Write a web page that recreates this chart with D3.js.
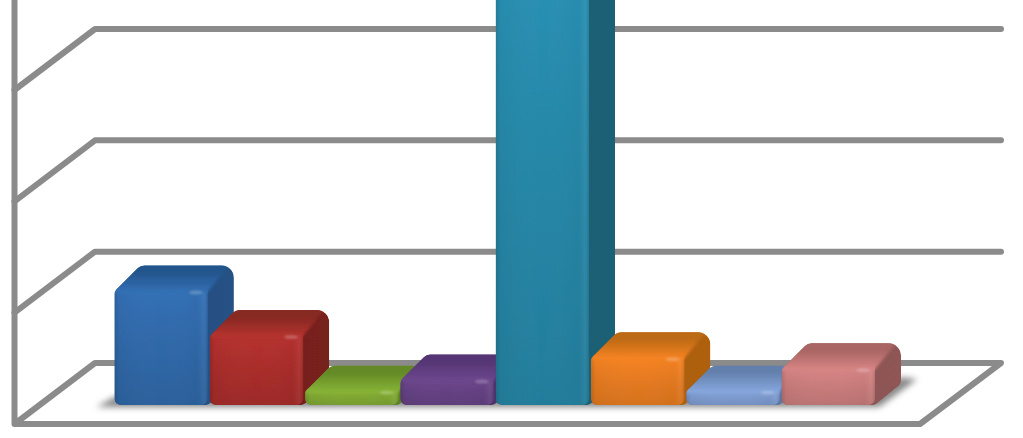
<!DOCTYPE html>
<html>
<head>
<meta charset="utf-8">
<script src="https://cdn.jsdelivr.net/npm/d3@7"></script>
<style>
html, body { margin: 0; padding: 0; background: #fff; overflow: hidden; }
svg { display: block; }
</style>
</head>
<body>
<svg id="chart" width="1023" height="438"></svg>
<script>
// values are in axis units, one gridline step = 100 (the picture has no labels)
const categories = ["a", "b", "c", "d", "e", "f", "g", "h"];
const values = [102, 62, 12, 22, 400, 42, 12, 32];
const gridTicks = [0, 100, 200, 300];
const frontColors = ["#2f68a8", "#a92d2b", "#7fa733", "#654283", "#2686a6", "#e57a20", "#7d9bcf", "#c97c7c"];
const topColors = ["#24558c", "#862a22", "#638a26", "#553673", "#1f6d87", "#bd6a14", "#6480ad", "#a96563"];
const sideColors = ["#234b7c", "#701e1a", "#567a20", "#4a2f66", "#1b5a6d", "#a35a10", "#56709a", "#85504f"];

const svg = d3.select("#chart");
const base_y = 405;
const depth = 26;
const floor_front = 19, floor_back = -42;

const x = d3.scaleBand().domain(categories).range([114.5, 875]).paddingInner(0.02);
const y = d3.scaleLinear().domain([0, 300]).range([base_y, base_y - 334]);

const defs = svg.append("defs");
function blur(id, dev) {
    defs.append("filter").attr("id", id).attr("x", "-20%").attr("y", "-50%").attr("width", "140%").attr("height", "200%")
        .append("feGaussianBlur").attr("stdDeviation", dev);
}
blur("soft", 0.45);
blur("seam", 1.6);
blur("glint", 1.2);
blur("shadow-blur", 3.2);

function gradient(id, x2, y2, stops) {
    let g = defs.append("linearGradient").attr("id", id)
        .attr("x1", 0).attr("y1", 0).attr("x2", x2).attr("y2", y2);
    stops.forEach(s => g.append("stop").attr("offset", s[0]).attr("stop-color", s[1]).attr("stop-opacity", s[2]));
}

gradient("edge-h", 1, 0, [[0, "#000", 0.14], [0.05, "#000", 0.03], [0.5, "#fff", 0], [0.88, "#000", 0.02], [0.95, "#fff", 0.04], [1, "#000", 0.12]]);
categories.forEach((c, i) => {
    let fc = d3.color(frontColors[i]);
    gradient("front" + i, 0, 1, [[0, fc.brighter(0.22), 1], [0.5, fc, 1], [1, fc.darker(0.2), 1]]);
    gradient("top" + i, 0, 1, [[0, topColors[i], 1], [0.4, topColors[i], 1], [1, fc.brighter(0.22), 1]]);
    gradient("side" + i, 1, 0, [[0, sideColors[i], 1], [1, d3.color(sideColors[i]).brighter(0.2), 1]]);
});

// closed path through the points with rounded corners
function rounded(points, r) {
    let p = d3.path();
    let n = points.length;
    let start = [(points[0][0] + points[n - 1][0]) / 2, (points[0][1] + points[n - 1][1]) / 2];
    p.moveTo(start[0], start[1]);
    points.forEach((pt, i) => {
        let next = points[(i + 1) % n];
        let rad = Array.isArray(r) ? r[i] : r;
        p.arcTo(pt[0], pt[1], next[0], next[1], rad);
    });
    p.closePath();
    return p.toString();
}
const poly = pts => "M" + pts.map(d => d.join(",")).join("L") + "Z";

// walls and floor
const grid = svg.append("g").attr("fill", "none").attr("stroke", "#8b8b8b")
    .attr("stroke-width", 6).attr("stroke-linejoin", "round").attr("stroke-linecap", "round");
const wall_x = 14.5, back_x = 95, right_x = 1001, front_right_x = 920;

gridTicks.slice(1).forEach(t => {
    grid.append("path").attr("d", d3.line()([
        [wall_x, y(t) + floor_front],
        [back_x, y(t) + floor_back],
        [right_x, y(t) + floor_back]
    ]));
});
grid.append("path").attr("d", d3.line()([
    [wall_x, -5],
    [wall_x, y(0) + floor_front],
    [back_x, y(0) + floor_back],
    [right_x, y(0) + floor_back],
    [front_right_x, y(0) + floor_front],
    [wall_x, y(0) + floor_front]
]));

// shadow under the bars
const last = categories[categories.length - 1];
svg.append("path")
    .attr("d", poly([
        [x(categories[0]) - 18, base_y + 2],
        [x(categories[0]), base_y - 8],
        [x(last) + x.bandwidth(), base_y - 8],
        [x(last) + x.bandwidth() + depth, y(values[7]) + 8],
        [x(last) + x.bandwidth() + depth + 16, y(values[7]) + 10],
        [x(last) + x.bandwidth() + 4, base_y + 2]
    ]))
    .attr("fill", "#858585")
    .attr("filter", "url(#shadow-blur)");

// bars, left to right so that each one covers the side of the one before
const bars = svg.append("g").attr("filter", "url(#soft)");
categories.forEach((c, i) => {
    let x0 = x(c), x1 = x0 + x.bandwidth();
    let top = y(values[i]);
    let r = Math.min(8, (base_y - top) / 2.4);
    let outline = rounded([
        [x0, base_y], [x0, top], [x0 + depth, top - depth],
        [x1 + depth, top - depth], [x1 + depth, base_y - depth + 5], [x1, base_y]
    ], [6, r, 9, 12, 6, 7]);

    defs.append("clipPath").attr("id", "clip" + i).append("path").attr("d", outline);
    let g = bars.append("g").attr("clip-path", `url(#clip${i})`);

    g.append("path").attr("d", outline).attr("fill", `url(#side${i})`);

    let front = rounded([[x0, base_y], [x0, top - 3], [x1, top - 3], [x1, base_y]], [6, 2, 2, 7]);
    g.append("path").attr("d", front).attr("fill", `url(#front${i})`);
    g.append("path").attr("d", front).attr("fill", "url(#edge-h)");

    g.append("path")
        .attr("d", poly([[x0 - 6, top + 1], [x0 + depth - 6, top - depth - 6], [x1 + depth, top - depth - 6], [x1 - 1, top + 1]]))
        .attr("fill", `url(#top${i})`)
        .attr("filter", "url(#seam)");

    // soft glint at the top right corner of the front face
    g.append("ellipse")
        .attr("cx", x1 - 12).attr("cy", top + 1)
        .attr("rx", 7).attr("ry", 2)
        .attr("fill", "#fff").attr("opacity", 0.22)
        .attr("filter", "url(#glint)");
});
</script>
</body>
</html>
